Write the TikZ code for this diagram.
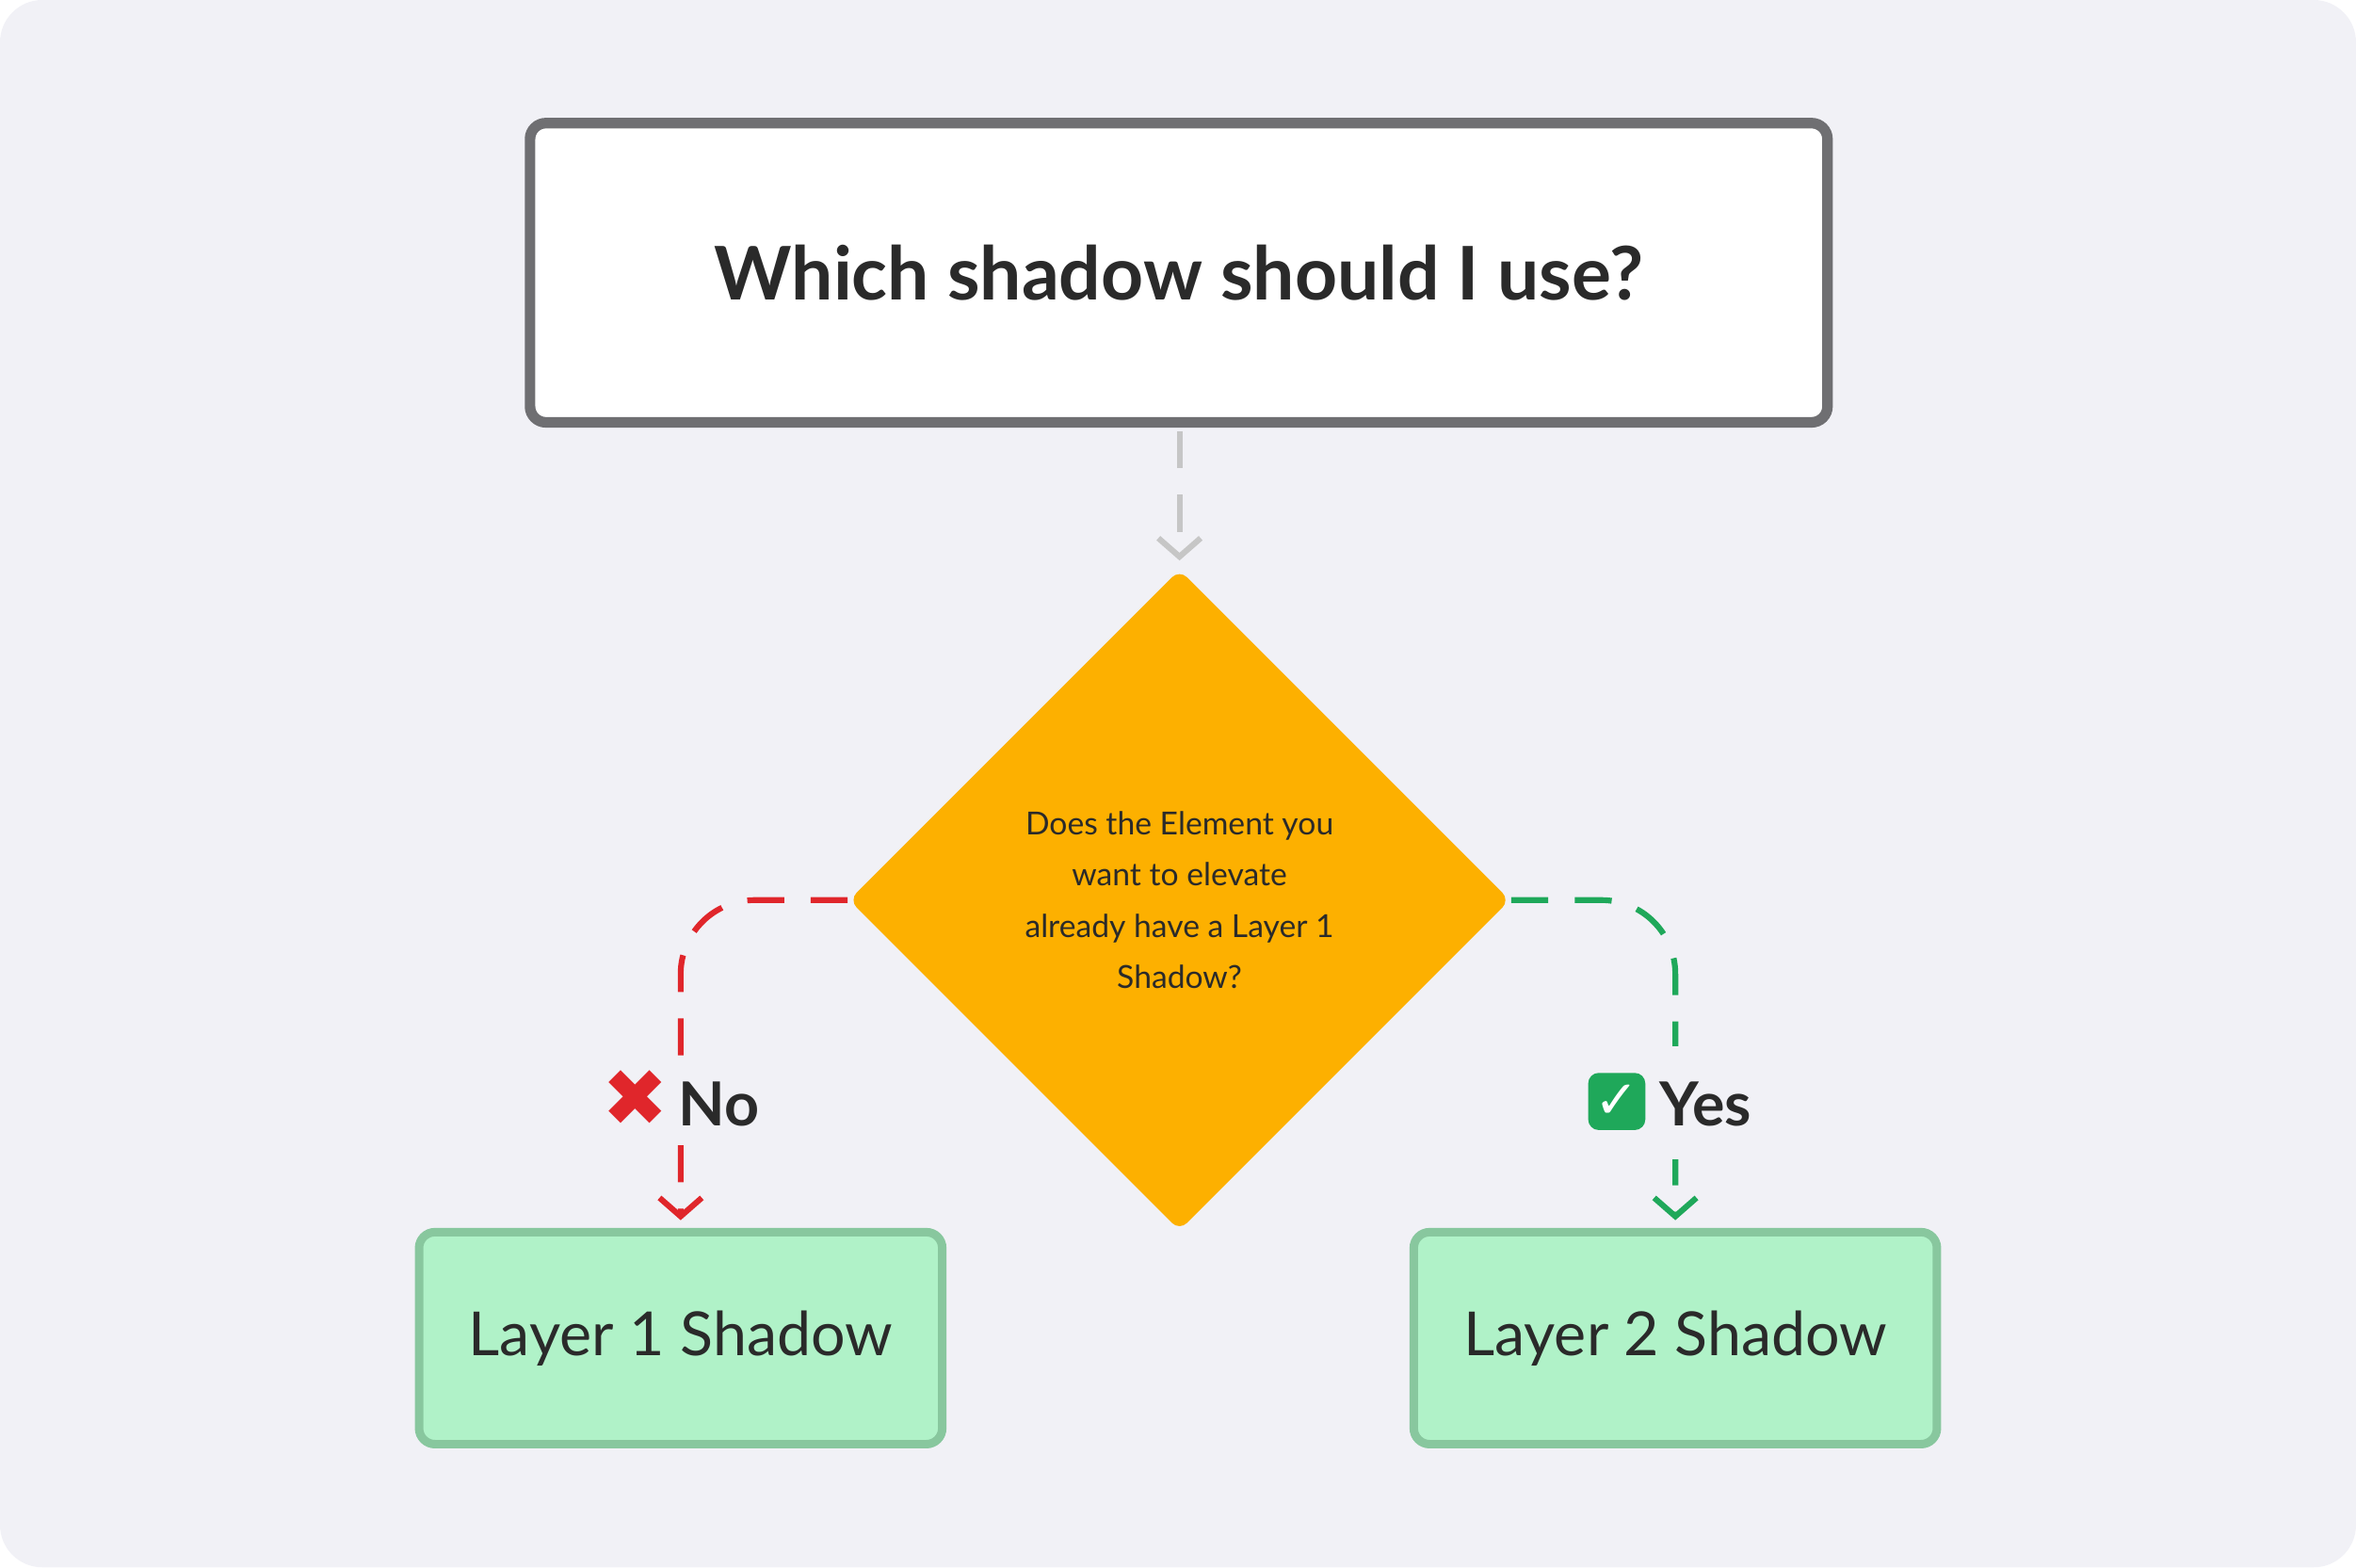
\documentclass[tikz,border=0pt]{standalone}
\usepackage{fontspec}
\setmainfont{Lato}
\newfontfamily\symfont{DejaVu Sans}
\usetikzlibrary{shapes.geometric,arrows.meta}
\definecolor{bg}{HTML}{F1F1F6}
\definecolor{grayb}{HTML}{6F6F72}
\definecolor{gold}{HTML}{FDB000}
\definecolor{mint}{HTML}{B0F2C8}
\definecolor{mintb}{HTML}{88C79E}
\definecolor{redl}{HTML}{E0262B}
\definecolor{greenl}{HTML}{1FA85A}
\definecolor{txt}{HTML}{2A2A2A}
\begin{document}
\begin{tikzpicture}[x=0.01cm,y=-0.01cm,
  conn/.style={dashed,dash pattern=on 7pt off 5pt,line width=1.1pt,-{Straight Barb[length=3.5pt,width=8pt]}},
  resbox/.style={draw=mintb,fill=mint,line width=1.6pt,rounded corners=3pt,minimum width=3.48cm,minimum height=1.41cm,font=\fontsize{11.5}{14}\selectfont,text=txt},
  lbl/.style={fill=bg,inner sep=2pt,font=\bfseries\fontsize{11.5}{14}\selectfont,text=txt}]
\fill[bg,rounded corners=8pt] (0,0) rectangle (1568,1043);
\useasboundingbox (0,0) rectangle (1568,1043);
\node[draw=grayb,fill=white,line width=2pt,rounded corners=3pt,minimum width=8.63cm,minimum height=1.99cm,font=\bfseries\fontsize{14}{17}\selectfont,text=txt] (title) at (784.5,181.5) {Which shadow should I use?};
\node[diamond,fill=gold,minimum width=4.4cm,minimum height=4.4cm,inner sep=0pt,rounded corners=2pt] (dec) at (785,599) {};
\node[align=center,font=\fontsize{6}{9.7}\selectfont,text=txt] at (785,599) {Does the Element you\\want to elevate\\already have a Layer 1\\Shadow?};
\node[resbox] (l1) at (453,890.5) {Layer 1 Shadow};
\node[resbox] (l2) at (1115,890.5) {Layer 2 Shadow};
\draw[conn,draw=gray!45] (785,287) -- (785,373);
\draw[conn,draw=redl,rounded corners=14pt] (dec.west) -- (453,599) -- (453,812);
\draw[conn,draw=greenl,rounded corners=14pt] (dec.east) -- (1115,599) -- (1115,812);
\node[lbl,minimum width=1.1cm] (no) at (453,731) {{\symfont\color{redl}\fontsize{15}{15}\selectfont ✖}\,No};
\node[fill=bg,minimum width=1.3cm,minimum height=0.75cm] (yesbg) at (1115,734) {};
\node[fill=greenl,rounded corners=2pt,minimum size=0.38cm,inner sep=0pt,text=white,font=\symfont\bfseries\fontsize{10}{10}\selectfont] (chk) at (1076,733) {✓};
\node[font=\bfseries\fontsize{11.5}{14}\selectfont,text=txt,anchor=west,inner sep=0pt] (yes) at (1104,735) {Yes};
\end{tikzpicture}
\end{document}
